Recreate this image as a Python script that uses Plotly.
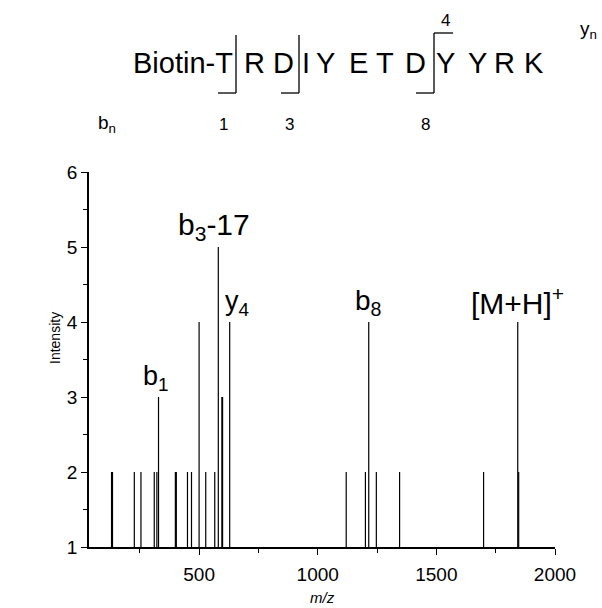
import plotly.graph_objects as go

# ---- data ----
mz = [131, 135, 227, 255, 311, 322, 329, 400, 404, 451, 468, 500, 528, 566,
      581, 596, 599, 629, 1120, 1201, 1215, 1247, 1345, 1699, 1843, 1847]
intensity = [2, 2, 2, 2, 2, 2, 3, 2, 2, 2, 2, 4, 2, 2,
             5, 3, 3, 4, 2, 2, 4, 2, 2, 2, 4, 2]
baseline = 1

peak_labels = ["b<sub>1</sub>", "b<sub>3</sub>-17", "y<sub>4</sub>", "b<sub>8</sub>", "[M+H]<sup>+</sup>"]
peak_label_mz = [329, 581, 629, 1215, 1843]
peak_label_int = [3, 5, 4, 4, 4]

x_ticks = [500, 1000, 1500, 2000]
y_ticks = [1, 2, 3, 4, 5, 6]

sequence = ["R", "D", "I", "Y", "E", "T", "D", "Y", "Y", "R", "K"]
seq_x_px = [254, 283, 306, 325, 358, 385, 415, 445, 477, 504, 534]

# ---- geometry helpers (pixel -> paper) ----
W, H = 602, 608
L, R, T, B = 89, 47, 172, 61
PW, PH = W - L - R, H - T - B


def px(x):
    return (x - L) / PW


def py(y):
    return (H - B - y) / PH


FONT = "Liberation Sans, Arial, sans-serif"

# stick spectrum
xs, ys = [], []
for m, h in zip(mz, intensity):
    xs += [m, m, None]
    ys += [baseline, h, None]

fig = go.Figure()
fig.add_trace(go.Scatter(x=xs, y=ys, mode="lines",
                         line=dict(color="black", width=1.2),
                         hoverinfo="skip", showlegend=False))

ann = []
label_style = [(-3, 27), (-4, 30), (7, 27), (0, 28), (0, 30)]
for t, m, h, (xs_, fs) in zip(peak_labels, peak_label_mz, peak_label_int, label_style):
    ann.append(dict(x=m, y=h, xref="x", yref="y", text=t, showarrow=False,
                    xanchor="center", yanchor="bottom", xshift=xs_,
                    font=dict(family=FONT, size=fs, color="black")))

# peptide header
ann.append(dict(x=px(235), y=py(63), xref="paper", yref="paper", text="Biotin-T",
                showarrow=False, xanchor="right", yanchor="middle",
                font=dict(family=FONT, size=29, color="black")))
for s, xp in zip(sequence, seq_x_px):
    ann.append(dict(x=px(xp), y=py(63), xref="paper", yref="paper", text=s,
                    showarrow=False, xanchor="center", yanchor="middle",
                    font=dict(family=FONT, size=29, color="black")))
for s, xp, yp in [("1", 223, 124), ("3", 289, 124), ("8", 425, 124), ("4", 445, 21)]:
    ann.append(dict(x=px(xp), y=py(yp), xref="paper", yref="paper", text=s,
                    showarrow=False, xanchor="center", yanchor="middle",
                    font=dict(family=FONT, size=17, color="black")))
ann.append(dict(x=px(107), y=py(124), xref="paper", yref="paper", text="b<sub>n</sub>",
                showarrow=False, xanchor="center", yanchor="middle",
                font=dict(family=FONT, size=19, color="black")))
ann.append(dict(x=px(588), y=py(30), xref="paper", yref="paper", text="y<sub>n</sub>",
                showarrow=False, xanchor="center", yanchor="middle",
                font=dict(family=FONT, size=19, color="black")))

# axis titles
ann.append(dict(x=px(55), y=py(338), xref="paper", yref="paper", text="Intensity",
                showarrow=False, textangle=-90, xanchor="center", yanchor="middle",
                font=dict(family=FONT, size=14, color="black")))
ann.append(dict(x=px(322), y=py(597), xref="paper", yref="paper", text="<i>m/z</i>",
                showarrow=False, xanchor="center", yanchor="middle",
                font=dict(family=FONT, size=15, color="black")))

# brackets in header
shapes = []
line = dict(color="black", width=1.3)
for (x0, x1, ytop, ybot) in [(218, 236, 35, 93), (281, 299, 35, 93), (416, 434, 33, 93)]:
    shapes.append(dict(type="line", xref="paper", yref="paper",
                       x0=px(x1), x1=px(x1), y0=py(ytop), y1=py(ybot), line=line))
    shapes.append(dict(type="line", xref="paper", yref="paper",
                       x0=px(x0), x1=px(x1), y0=py(ybot), y1=py(ybot), line=line))
shapes.append(dict(type="line", xref="paper", yref="paper",
                   x0=px(434), x1=px(453), y0=py(33), y1=py(33), line=line))

fig.update_layout(
    width=W, height=H, autosize=False,
    margin=dict(l=L, r=R, t=T, b=B, pad=0),
    paper_bgcolor="white", plot_bgcolor="white",
    font=dict(family=FONT, color="black"),
    annotations=ann, shapes=shapes,
    xaxis=dict(range=[36, 2000], tickvals=x_ticks, ticks="outside", ticklen=6,
               tickwidth=1.3, tickcolor="black", showline=True, linecolor="black",
               linewidth=1.6, showgrid=False, zeroline=False, ticklabelstandoff=3,
               tickfont=dict(family=FONT, size=19, color="black"),
               minor=dict(tick0=250, dtick=250, ticks="outside", ticklen=4,
                          tickwidth=1, tickcolor="black")),
    yaxis=dict(range=[1, 6], tickvals=y_ticks, ticks="outside", ticklen=6,
               tickwidth=1.3, tickcolor="black", showline=True, linecolor="black",
               linewidth=1.6, showgrid=False, zeroline=False,
               tickfont=dict(family=FONT, size=19, color="black"),
               minor=dict(dtick=0.5, ticks="outside", ticklen=4,
                          tickwidth=1, tickcolor="black")),
)

fig.write_html("out.html", config={"displayModeBar": False},
               post_script="document.body.style.margin='0';document.body.style.overflow='hidden';")
